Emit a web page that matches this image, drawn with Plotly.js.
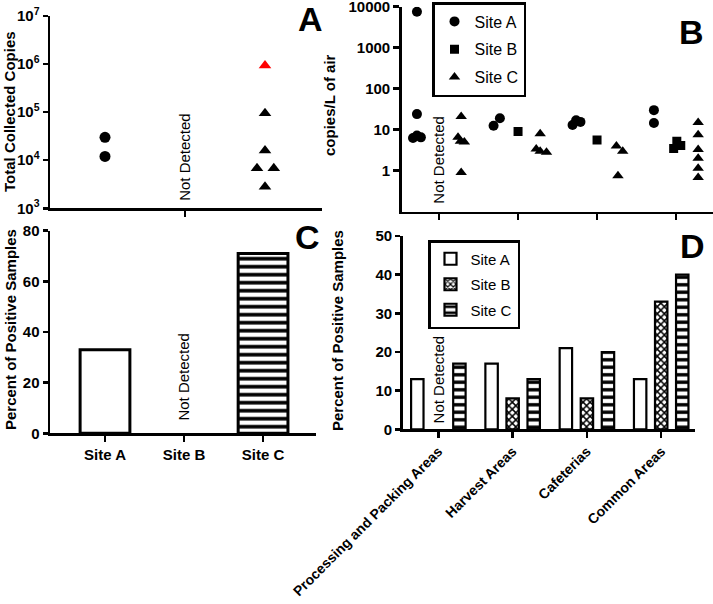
<!DOCTYPE html>
<html><head><meta charset="utf-8">
<script src="https://cdn.plot.ly/plotly-3.0.1.min.js"></script>
<style>html,body{margin:0;padding:0;background:#fff}</style>
</head><body><div id="chart" style="width:713px;height:604px"></div>
<script>
// ---------- Panel A: total collected copies ----------
const sites = ['Site A', 'Site B', 'Site C'];
const totalCopiesSiteA = [30000, 12000];
const totalCopiesSiteC = [95000, 16000, 6800, 6800, 2800];
const totalCopiesSiteCRed = [930000];
const jitterTotalA = [0, 0];
const jitterTotalC = [0, 0, -0.1, 0.11, 0];
const jitterTotalCRed = [0];

// ---------- Panel B: copies/L of air by area ----------
const areas = ['Processing and Packing Areas', 'Harvest Areas', 'Cafeterias', 'Common Areas'];
const airSiteA = [[7500, 24, 6.3, 7.2, 6.5], [12.5, 19], [13, 17, 15.5], [30, 14.5]];
const airSiteB = [[], [9], [5.6], [3.5, 5.2, 4.1]];
const airSiteC = [[21, 6.5, 5.2, 5, 0.9], [8, 3.4, 3, 2.8], [4, 3, 0.75], [15, 7.5, 3.3, 2, 1.15, 0.68]];
const jitterAirA = [[0, 0, -0.05, 0, 0.05], [-0.03, 0.05], [-0.03, 0.015, 0.07], [0, 0]];
const jitterAirB = [[], [0], [0], [-0.03, 0.01, 0.06]];
const jitterAirC = [[0, -0.04, -0.01, 0.04, 0], [0, -0.05, 0, 0.08], [-0.035, 0.045, -0.015], [0, 0, 0, 0, 0, 0]];

// ---------- Panel C: percent positive by site ----------
const percentPositiveSite = [33, null, 71];

// ---------- Panel D: percent positive by area ----------
const percentAreaSiteA = [13, 17, 21, 13];
const percentAreaSiteB = [null, 8, 8, 33];
const percentAreaSiteC = [17, 13, 20, 40];

const FONT = 'Arial, Liberation Sans, sans-serif';
const siteOffset = {A: -0.28, B: 0, C: 0.28};

function buildDots(values, jitters, offset) {
  const xs = [], ys = [];
  values.forEach((arr, ci) => arr.forEach((v, i) => { xs.push(ci + offset + jitters[ci][i]); ys.push(v); }));
  return {xs, ys};
}
const bA = buildDots(airSiteA, jitterAirA, siteOffset.A);
const bB = buildDots(airSiteB, jitterAirB, siteOffset.B);
const bC = buildDots(airSiteC, jitterAirC, siteOffset.C);

const traces = [
  // Panel A
  {type: 'scatter', mode: 'markers', xaxis: 'x', yaxis: 'y', showlegend: false,
   x: totalCopiesSiteA.map((v, i) => 0 + jitterTotalA[i]), y: totalCopiesSiteA,
   marker: {symbol: 'circle', size: 11, color: '#000'}},
  {type: 'scatter', mode: 'markers', xaxis: 'x', yaxis: 'y', showlegend: false,
   x: totalCopiesSiteC.map((v, i) => 2 + jitterTotalC[i]), y: totalCopiesSiteC,
   marker: {symbol: 'triangle-up', size: 11, color: '#000'}},
  {type: 'scatter', mode: 'markers', xaxis: 'x', yaxis: 'y', showlegend: false,
   x: totalCopiesSiteCRed.map((v, i) => 2 + jitterTotalCRed[i]), y: totalCopiesSiteCRed,
   marker: {symbol: 'triangle-up', size: 11, color: '#ff0000'}},
  // Panel B
  {type: 'scatter', mode: 'markers', xaxis: 'x2', yaxis: 'y2', name: 'Site A', legend: 'legend', legendgroup: 'bA',
   x: bA.xs, y: bA.ys, marker: {symbol: 'circle', size: 10, color: '#000'}},
  {type: 'scatter', mode: 'markers', xaxis: 'x2', yaxis: 'y2', name: 'Site B', legend: 'legend', legendgroup: 'bB',
   x: bB.xs, y: bB.ys, marker: {symbol: 'square', size: 9, color: '#000'}},
  {type: 'scatter', mode: 'markers', xaxis: 'x2', yaxis: 'y2', name: 'Site C', legend: 'legend', legendgroup: 'bC',
   x: bC.xs, y: bC.ys, marker: {symbol: 'triangle-up', size: 10, color: '#000'}},
  // Panel C
  {type: 'bar', xaxis: 'x3', yaxis: 'y3', showlegend: false, x: sites, y: percentPositiveSite, width: 0.63,
   marker: {color: '#fff', line: {color: '#000', width: 3},
            pattern: {shape: ['', '', '-'], fgcolor: '#000', bgcolor: '#fff', size: 8, solidity: 0.45}}},
  // Panel D
  {type: 'bar', xaxis: 'x4', yaxis: 'y4', name: 'Site A', legend: 'legend2', legendgroup: 'dA', x: areas, y: percentAreaSiteA,
   marker: {color: '#fff', line: {color: '#000', width: 2.2}}},
  {type: 'bar', xaxis: 'x4', yaxis: 'y4', name: 'Site B', legend: 'legend2', legendgroup: 'dB', x: areas, y: percentAreaSiteB,
   marker: {color: '#fff', line: {color: '#000', width: 2.2},
            pattern: {shape: 'x', fgcolor: '#000', bgcolor: '#fff', size: 5, solidity: 0.5}}},
  {type: 'bar', xaxis: 'x4', yaxis: 'y4', name: 'Site C', legend: 'legend2', legendgroup: 'dC', x: areas, y: percentAreaSiteC,
   marker: {color: '#fff', line: {color: '#000', width: 2.2},
            pattern: {shape: '-', fgcolor: '#000', bgcolor: '#fff', size: 7.5, solidity: 0.45}}}
];

function ax(extra) {
  return Object.assign({
    showline: true, linecolor: '#000', linewidth: 2.5, ticks: 'outside', ticklen: 6, tickwidth: 2.5, tickcolor: '#000',
    showgrid: false, zeroline: false, fixedrange: true, ticklabeloverflow: 'allow',
    tickfont: {family: FONT, size: 15, color: '#000', weight: 'bold'}
  }, extra);
}

const W = 713, H = 604;
const px = v => v / W, py = v => 1 - v / H;

const notDetFont = {family: FONT, size: 15, color: '#000'};
const titleFont = {family: FONT, size: 15, color: '#000', weight: 'bold'};
const letterFont = {family: FONT, size: 34, color: '#000', weight: 'bold'};
const C = {showarrow: false, xanchor: 'center', yanchor: 'middle'};

const annotations = [
  Object.assign({xref: 'x', yref: 'y', x: 1, y: 4.07, text: 'Not Detected', textangle: -90, font: notDetFont}, C),
  Object.assign({xref: 'x2', yref: 'y2', x: 0, y: 0.27, text: 'Not Detected', textangle: -90, font: notDetFont}, C),
  Object.assign({xref: 'x3', yref: 'y3', x: 'Site B', y: 22.4, text: 'Not Detected', textangle: -90, font: notDetFont}, C),
  Object.assign({xref: 'x4', yref: 'y4', x: areas[0], y: 13, text: 'Not Detected', textangle: -90, font: notDetFont}, C),
  Object.assign({xref: 'paper', yref: 'paper', x: px(9), y: py(112), text: 'Total Collected Copies', textangle: -90, font: titleFont}, C),
  Object.assign({xref: 'paper', yref: 'paper', x: px(330), y: py(105), text: 'copies/L of air', textangle: -90, font: titleFont}, C),
  Object.assign({xref: 'paper', yref: 'paper', x: px(10), y: py(330), text: 'Percent of Positive Samples', textangle: -90, font: titleFont}, C),
  Object.assign({xref: 'paper', yref: 'paper', x: px(337), y: py(331), text: 'Percent of Positive Samples', textangle: -90, font: titleFont}, C),
  Object.assign({xref: 'paper', yref: 'paper', x: px(310), y: py(19), text: 'A', font: letterFont}, C),
  Object.assign({xref: 'paper', yref: 'paper', x: px(691), y: py(32), text: 'B', font: letterFont}, C),
  Object.assign({xref: 'paper', yref: 'paper', x: px(307), y: py(237), text: 'C', font: letterFont}, C),
  Object.assign({xref: 'paper', yref: 'paper', x: px(692), y: py(246), text: 'D', font: letterFont}, C)
];

const layout = {
  width: W, height: H, margin: {l: 0, r: 0, t: 0, b: 0},
  paper_bgcolor: '#fff', plot_bgcolor: 'rgba(0,0,0,0)',
  font: {family: FONT, color: '#000'},
  barmode: 'group', bargap: 0.15, bargroupgap: 0.41,
  // Panel A
  xaxis: ax({domain: [px(50), px(322)], anchor: 'y', range: [-0.6875, 2.7125], tickvals: [1], showticklabels: false}),
  yaxis: ax({domain: [py(208.3), py(16)], anchor: 'x', type: 'log', range: [3, 7],
             tickvals: [1e3, 1e4, 1e5, 1e6, 1e7],
             ticktext: ['10<sup>3</sup>', '10<sup>4</sup>', '10<sup>5</sup>', '10<sup>6</sup>', '10<sup>7</sup>'], ticklen: 5}),
  // Panel B
  xaxis2: ax({domain: [px(401.7), 1], anchor: 'y2', range: [-0.473, 3.468], tickvals: [0, 1, 2, 3], showticklabels: false}),
  yaxis2: ax({domain: [py(211.7), py(6.7)], anchor: 'x2', type: 'log', range: [-1, 4],
              tickvals: [1, 10, 100, 1000, 10000], ticktext: ['1', '10', '100', '1000', '10000'], ticklen: 6}),
  // Panel C
  xaxis3: ax({domain: [px(50), px(316)], anchor: 'y3', type: 'category', categoryarray: sites, range: [-0.696, 2.67]}),
  yaxis3: ax({domain: [py(433.3), py(230.7)], anchor: 'x3', range: [0, 80], dtick: 20, ticklen: 5}),
  // Panel D
  xaxis4: ax({domain: [px(402.7), px(695)], anchor: 'y4', type: 'category', categoryarray: areas, range: [-0.48, 3.455],
              tickangle: -45, tickfont: {family: FONT, size: 14, color: '#000', weight: 'bold'}}),
  yaxis4: ax({domain: [py(429.3), py(236)], anchor: 'x4', range: [0, 50], dtick: 10, ticklen: 5}),
  legend: {x: px(432), y: py(2), xanchor: 'left', yanchor: 'top', bgcolor: '#fff', bordercolor: '#000', borderwidth: 2.5,
           font: {family: FONT, size: 16, color: '#000'}, tracegroupgap: 4},
  legend2: {x: px(428), y: py(240), xanchor: 'left', yanchor: 'top', bgcolor: '#fff', bordercolor: '#000', borderwidth: 2.5,
            font: {family: FONT, size: 15, color: '#000'}, tracegroupgap: 3},
  annotations: annotations
};

Plotly.newPlot('chart', traces, layout, {displayModeBar: false, staticPlot: true});
</script>
</body></html>
